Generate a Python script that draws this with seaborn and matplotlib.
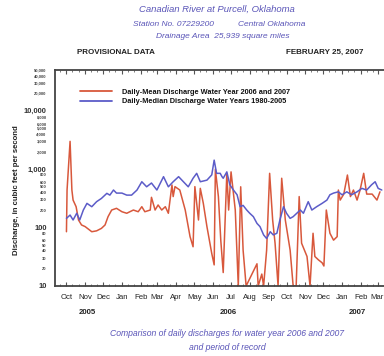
import numpy as np
import pandas as pd
import matplotlib
matplotlib.use("Agg")
import matplotlib.pyplot as plt
import matplotlib.dates as mdates
from matplotlib.ticker import FixedLocator, FuncFormatter
import seaborn as sns

# Day offsets from the start of water year 2006 (2005-10-01) and discharge in cfs
mean_days = [0, 1, 6, 9, 11, 16, 20, 25, 31, 42, 50, 58, 64, 69, 75, 83, 92, 100,
             111, 119, 125, 130, 139, 141, 147, 152, 158, 164, 169, 175, 177, 180,
             188, 197, 205, 210, 213, 219, 222, 227, 233, 241, 245, 247, 252, 256,
             260, 266, 269, 273, 280, 285, 289, 293, 298, 316, 318, 324, 327, 332,
             337, 342, 346, 351, 357, 363, 371, 376, 381, 386, 390, 399, 404, 409,
             412, 418, 424, 427, 431, 437, 443, 449, 451, 454, 460, 466, 471, 476,
             482, 487, 493, 498, 507, 515, 520]
mean_cfs = [85, 440, 3000, 440, 296, 228, 135, 111, 104, 85, 88, 97, 111, 154, 200,
            214, 187, 176, 200, 187, 228, 187, 200, 330, 200, 244, 200, 228, 176,
            537, 340, 503, 440, 200, 70, 47, 503, 135, 470, 260, 104, 36, 23, 1000,
            340, 60, 17, 850, 200, 900, 200, 10, 500, 41, 10, 24, 10, 16, 10, 41,
            850, 135, 54, 10, 700, 135, 41, 10, 10, 340, 54, 32, 10, 80, 32, 28,
            25, 22, 200, 80, 61, 70, 440, 296, 375, 795, 340, 440, 296, 440, 850,
            375, 375, 296, 410]

median_days = [0, 6, 11, 17, 22, 28, 34, 42, 50, 58, 67, 72, 78, 83, 92, 100, 108,
               117, 125, 133, 141, 150, 161, 169, 177, 186, 194, 202, 210, 216, 222,
               233, 241, 245, 249, 255, 258, 260, 266, 271, 277, 283, 288, 293, 299,
               304, 310, 316, 321, 327, 332, 338, 343, 349, 354, 360, 365, 371, 376,
               382, 388, 393, 401, 407, 415, 424, 432, 437, 443, 451, 457, 465, 473,
               482, 490, 498, 506, 512, 517, 523]
median_cfs = [144, 164, 135, 176, 135, 200, 260, 228, 278, 316, 386, 360, 440, 390,
              390, 360, 360, 440, 610, 500, 580, 440, 745, 500, 610, 745, 610, 500,
              700, 850, 610, 650, 800, 1430, 850, 850, 745, 700, 900, 540, 440, 365,
              228, 240, 200, 176, 154, 118, 104, 75, 65, 85, 75, 80, 135, 228, 176,
              144, 154, 176, 200, 176, 278, 200, 228, 260, 296, 365, 390, 410, 365,
              410, 365, 410, 470, 440, 540, 610, 470, 440]

month_labels = ["Oct", "Nov", "Dec", "Jan", "Feb", "Mar", "Apr", "May", "Jun",
                "Jul", "Aug", "Sep", "Oct", "Nov", "Dec", "Jan", "Feb", "Mar"]
year_labels = ["2005", "2006", "2007"]

start = pd.Timestamp("2005-10-01")
mean_df = pd.DataFrame({"date": start + pd.to_timedelta(mean_days, unit="D"),
                        "cfs": mean_cfs,
                        "series": "Daily-Mean Discharge Water Year 2006 and 2007"})
median_df = pd.DataFrame({"date": start + pd.to_timedelta(median_days, unit="D"),
                          "cfs": median_cfs,
                          "series": "Daily-Median Discharge Water Years 1980-2005"})
df = pd.concat([mean_df, median_df], ignore_index=True)

sns.set_style("white")
plt.rcParams["font.family"] = ["Liberation Sans", "DejaVu Sans"]

W, H = 384, 356
fig = plt.figure(figsize=(W / 100, H / 100), dpi=100)
fig.patch.set_facecolor("white")

ax_l, ax_r, ax_t, ax_b = 55, 386, 70, 286
ax = fig.add_axes([ax_l / W, 1 - ax_b / H, (ax_r - ax_l) / W, (ax_b - ax_t) / H])

red = "#d8583c"
blue = "#5c5cc8"
sns.lineplot(data=df, x="date", y="cfs", hue="series",
             palette=[red, blue], ax=ax, linewidth=1.1, legend=True)

ax.set_yscale("log")
ax.set_ylim(10, 50000)
ax.set_xlim(pd.Timestamp("2005-09-12"), pd.Timestamp("2007-03-15"))
ax.set_xlabel("")
ax.set_ylabel("")

# Frame
for s in ax.spines.values():
    s.set_color("#444444")
    s.set_linewidth(1.3)

# X axis: month ticks at month starts, small ticks every ten days
month_ticks = pd.date_range("2005-10-01", periods=len(month_labels), freq="MS")
ax.xaxis.set_major_locator(FixedLocator(mdates.date2num(month_ticks)))
ax.set_xticklabels(month_labels)
minor = [d for m in pd.date_range("2005-09-01", "2007-03-01", freq="MS")
         for d in (m + pd.Timedelta(days=10), m + pd.Timedelta(days=20))]
ax.xaxis.set_minor_locator(FixedLocator(mdates.date2num(minor)))
ax.tick_params(axis="x", which="major", direction="in", length=3, width=0.8,
               color="#555555", top=True, bottom=True, labelsize=5.6,
               labelcolor="#222222", pad=6)
ax.tick_params(axis="x", which="minor", direction="in", length=1.6, width=0.6,
               color="#666666", top=True, bottom=True)

# Y axis: decades labeled large, intermediate values labeled small
major_y = [10, 100, 1000, 10000]
minor_y = [m * d for d in (10, 100, 1000, 10000) for m in (2, 3, 4, 5, 6, 8)
           if m * d <= 50000]
ax.yaxis.set_major_locator(FixedLocator(major_y))
ax.yaxis.set_minor_locator(FixedLocator(minor_y))
fmt = FuncFormatter(lambda v, p: f"{int(round(v)):,}")
ax.yaxis.set_major_formatter(fmt)
ax.yaxis.set_minor_formatter(fmt)
ax.tick_params(axis="y", which="major", direction="in", length=3, width=0.8,
               color="#555555", labelsize=5.4, labelcolor="#333333", pad=6)
ax.tick_params(axis="y", which="minor", direction="in", length=0,
               labelsize=3.0, labelcolor="#444444", pad=6)
for lab in ax.get_yticklabels(which="both"):
    lab.set_fontweight("bold")

# Legend
leg = ax.legend(loc="upper left", bbox_to_anchor=((80 - ax_l) / (ax_r - ax_l), 0.915),
                frameon=False, fontsize=5.3, handlelength=4.4, handletextpad=1.3,
                borderpad=0, borderaxespad=0, labelspacing=0.35)
for t in leg.get_texts():
    t.set_fontweight("bold")
    t.set_color("#111111")
for h in leg.get_lines():
    h.set_linewidth(1.3)

# Axis title
fig.text(17 / W, 1 - 190 / H, "Discharge, in cubic feet per second", rotation=90,
         ha="center", va="center", fontsize=5.6, fontweight="bold", color="#222222")

# Year labels under the month axis
for lbl, xp in zip(year_labels, [87, 228, 357]):
    fig.text(xp / W, 1 - 313 / H, lbl, ha="center", va="center",
             fontsize=5.6, fontweight="bold", color="#222222")

# Header
title_col = "#5a55b8"
fig.text(217 / W, 1 - 9 / H, "Canadian River at Purcell, Oklahoma", ha="center",
         va="center", fontsize=6.8, style="italic", color=title_col)
fig.text(133 / W, 1 - 24 / H, "Station No. 07229200", ha="left", va="center",
         fontsize=6.0, style="italic", color=title_col)
fig.text(305 / W, 1 - 24 / H, "Central Oklahoma", ha="right", va="center",
         fontsize=6.0, style="italic", color=title_col)
fig.text(223 / W, 1 - 37 / H, "Drainage Area  25,939 square miles", ha="center",
         va="center", fontsize=6.0, style="italic", color=title_col)
fig.text(77 / W, 1 - 52 / H, "PROVISIONAL DATA", ha="left", va="center",
         fontsize=5.8, fontweight="bold", color="#222222")
fig.text(363 / W, 1 - 52 / H, "FEBRUARY 25, 2007", ha="right", va="center",
         fontsize=5.8, fontweight="bold", color="#222222")

# Caption
fig.text(227 / W, 1 - 333 / H,
         "Comparison of daily discharges for water year 2006 and 2007",
         ha="center", va="center", fontsize=6.2, style="italic", color=title_col)
fig.text(227 / W, 1 - 348 / H, "and period of record", ha="center", va="center",
         fontsize=6.2, style="italic", color=title_col)

fig.savefig("out.png", dpi=100, facecolor="white")
